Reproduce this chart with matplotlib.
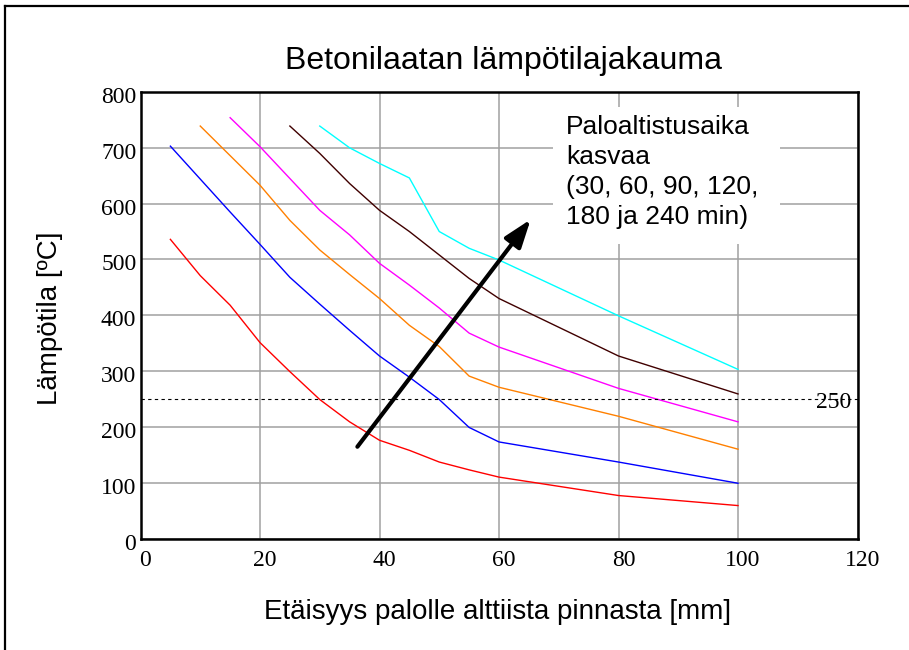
import matplotlib
matplotlib.use("Agg")
import matplotlib.pyplot as plt
from matplotlib.patches import Rectangle, FancyArrowPatch
from matplotlib.lines import Line2D
from matplotlib.transforms import ScaledTranslation

# Temperature profiles (°C) vs. distance from exposed face (mm)
x_30 = [5, 10, 15, 20, 25, 30, 35, 40, 45, 50, 55, 60, 80, 100]
t_30 = [536, 471, 418, 351, 299, 249, 209, 176, 158, 137, 123, 110, 77, 59]

x_60 = [5, 10, 15, 20, 25, 30, 35, 40, 45, 50, 55, 60, 80, 100]
t_60 = [703, 644, 585, 527, 468, 420, 373, 327, 289, 249, 199, 173, 137, 99]

x_90 = [10, 15, 20, 25, 30, 35, 40, 45, 50, 55, 60, 80, 100]
t_90 = [739, 686, 633, 570, 517, 473, 430, 382, 344, 291, 271, 219, 160]

x_120 = [15, 20, 25, 30, 35, 40, 45, 50, 55, 60, 80, 100]
t_120 = [754, 702, 645, 588, 544, 493, 454, 413, 368, 343, 269, 209]

x_180 = [25, 30, 35, 40, 45, 50, 55, 60, 80, 100]
t_180 = [739, 690, 636, 588, 550, 508, 466, 430, 327, 259]

x_240 = [30, 35, 40, 45, 50, 55, 60, 80, 100]
t_240 = [739, 700, 672, 646, 550, 520, 499, 399, 303]

series = [
    (x_30, t_30, "#ff0000"),
    (x_60, t_60, "#0000ff"),
    (x_90, t_90, "#ff8000"),
    (x_120, t_120, "#ff00ff"),
    (x_180, t_180, "#400000"),
    (x_240, t_240, "#00ffff"),
]

limit_temp = 250
x_ticks = [0, 20, 40, 60, 80, 100, 120]
y_ticks = [0, 100, 200, 300, 400, 500, 600, 700, 800]

title = "Betonilaatan lämpötilajakauma"
x_label = "Etäisyys palolle alttiista pinnasta [mm]"
y_label = "Lämpötila [ºC]"
note = "Paloaltistusaika\nkasvaa\n(30, 60, 90, 120,\n180 ja 240 min)"

W, H = 909, 650
fig = plt.figure(figsize=(W / 100, H / 100), dpi=100)
fig.patch.set_facecolor("white")

def fx(px):
    return px / W

def fy(py):
    return 1 - py / H

ax = fig.add_axes([fx(140.5), fy(538.5), fx(857.5) - fx(140.5), fy(92) - fy(538.5)])
ax.set_xlim(0, 120)
ax.set_ylim(0, 800)
ax.set_xticks(x_ticks)
ax.set_yticks(y_ticks)
ax.set_xticklabels([str(v) for v in x_ticks])
ax.set_yticklabels([str(v) for v in y_ticks])
ax.set_axisbelow(True)
ax.grid(True, color="#a0a0a0", linewidth=1.1)
for s in ax.spines.values():
    s.set_linewidth(1.8)
    s.set_color("black")
    s.set_zorder(5)

ax.tick_params(axis="both", length=0, labelsize=17)
ax.tick_params(axis="x", pad=8)
ax.tick_params(axis="y", pad=3)
for lab in ax.get_xticklabels() + ax.get_yticklabels():
    lab.set_family("Liberation Serif")
for lab in ax.get_xticklabels():
    lab.set_transform(lab.get_transform() + ScaledTranslation(5 / 100, 0, fig.dpi_scale_trans))
for lab in ax.get_yticklabels():
    lab.set_transform(lab.get_transform() + ScaledTranslation(0, -3 / 100, fig.dpi_scale_trans))

for xs, ts, c in series:
    ax.plot(xs, ts, color=c, linewidth=1.0, zorder=3)

ax.axhline(limit_temp, color="black", linewidth=0.8, linestyle=(0, (3, 3)), zorder=3)
ax.text(118.9, limit_temp - 7, str(limit_temp), ha="right", va="center",
        family="Liberation Serif", fontsize=17, zorder=4)

# white panel behind the note
ax.add_patch(Rectangle((69.0, 527.5), 38.0, 245.4, facecolor="white",
                       edgecolor="none", zorder=1))
ax.text(71.2, 758, note, ha="left", va="top", family="Liberation Sans",
        fontsize=19, linespacing=1.3, zorder=4)

arrow = FancyArrowPatch((36.3, 164.4), (65.3, 571.7),
                        arrowstyle="-|>,head_length=0.85,head_width=0.3",
                        mutation_scale=20, linewidth=3, color="black",
                        shrinkA=0, shrinkB=0, zorder=4)
ax.add_patch(arrow)

fig.text(fx(503.5), fy(61), title, ha="center", va="center",
         family="Liberation Sans", fontsize=23)
fig.text(fx(498), fy(612), x_label, ha="center", va="center",
         family="Liberation Sans", fontsize=20)
fig.text(fx(50), fy(318), y_label, ha="center", va="center", rotation=90,
         family="Liberation Sans", fontsize=20)

# outer frame (left and top edges)
fig.add_artist(Line2D([fx(5), fx(5)], [0, fy(6)], transform=fig.transFigure,
                      color="black", linewidth=1.6))
fig.add_artist(Line2D([fx(5), 1], [fy(6), fy(6)], transform=fig.transFigure,
                      color="black", linewidth=1.6))

fig.savefig("out.png", dpi=100)
